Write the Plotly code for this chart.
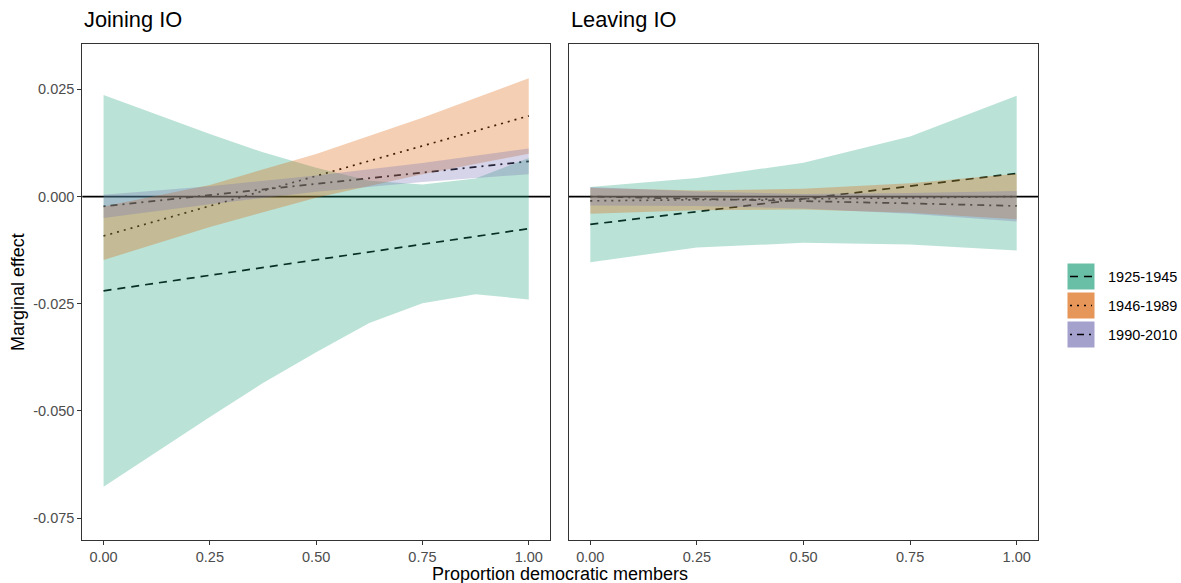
import plotly.graph_objects as go

W, H = 1181, 583

periods = ["1925-1945", "1946-1989", "1990-2010"]
fill_rgb = [(27, 158, 119), (217, 95, 2), (117, 112, 179)]
dashes = ["8px,6px", "2px,5px", "2px,5px,7px,5px"]

# ---- Joining IO ----
join_x_green = [0, 0.125, 0.25, 0.375, 0.5, 0.625, 0.75, 0.875, 1.0]
join_est_green = [-0.0220, -0.0202, -0.0184, -0.0166, -0.0148, -0.0129, -0.0111, -0.0093, -0.0075]
join_lo_green = [-0.0677, -0.0595, -0.0514, -0.0435, -0.0363, -0.0295, -0.0249, -0.0228, -0.0240]
join_hi_green = [0.0237, 0.0191, 0.0146, 0.0103, 0.0067, 0.0037, 0.0028, 0.0042, 0.0090]

join_x_orange = [0, 0.25, 0.5, 0.75, 1.0]
join_est_orange = [-0.0092, -0.0022, 0.0048, 0.0118, 0.0188]
join_lo_orange = [-0.0148, -0.0071, -0.0003, 0.0052, 0.0100]
join_hi_orange = [-0.0023, 0.0027, 0.0099, 0.0184, 0.0276]

join_x_purple = [0, 0.25, 0.5, 0.75, 1.0]
join_est_purple = [-0.0023, 0.0003, 0.0030, 0.0056, 0.0082]
join_lo_purple = [-0.0050, -0.0018, 0.0011, 0.0034, 0.0052]
join_hi_purple = [0.0004, 0.0024, 0.0049, 0.0078, 0.0112]

# ---- Leaving IO ----
leave_x_green = [0, 0.25, 0.5, 0.75, 1.0]
leave_est_green = [-0.0065, -0.0035, -0.0005, 0.0025, 0.0054]
leave_lo_green = [-0.0153, -0.0119, -0.0108, -0.0112, -0.0126]
leave_hi_green = [0.0022, 0.0043, 0.0079, 0.0140, 0.0235]

leave_x_orange = [0, 0.25, 0.5, 0.75, 1.0]
leave_est_orange = [-0.0010, -0.0008, -0.0005, -0.0003, 0.0000]
leave_lo_orange = [-0.0040, -0.0032, -0.0030, -0.0038, -0.0053]
leave_hi_orange = [0.0020, 0.0014, 0.0018, 0.0031, 0.0053]

leave_x_purple = [0, 0.25, 0.5, 0.75, 1.0]
leave_est_purple = [0.0000, -0.0005, -0.0011, -0.0016, -0.0022]
leave_lo_purple = [-0.0021, -0.0022, -0.0028, -0.0040, -0.0058]
leave_hi_purple = [0.0022, 0.0012, 0.0006, 0.0008, 0.0013]

x_tickvals = [0, 0.25, 0.5, 0.75, 1.0]
x_ticktext = ["0.00", "0.25", "0.50", "0.75", "1.00"]
y_tickvals = [0.025, 0.0, -0.025, -0.05, -0.075]
y_ticktext = ["0.025", "0.000", "-0.025", "-0.050", "-0.075"]

panels = [
    ("x", "y", [
        (join_x_green, join_est_green, join_lo_green, join_hi_green),
        (join_x_orange, join_est_orange, join_lo_orange, join_hi_orange),
        (join_x_purple, join_est_purple, join_lo_purple, join_hi_purple),
    ]),
    ("x2", "y2", [
        (leave_x_green, leave_est_green, leave_lo_green, leave_hi_green),
        (leave_x_orange, leave_est_orange, leave_lo_orange, leave_hi_orange),
        (leave_x_purple, leave_est_purple, leave_lo_purple, leave_hi_purple),
    ]),
]

fig = go.Figure()
for xa, ya, series in panels:
    # estimate lines first (ribbons drawn on top, as in the original)
    for i, (xs, est, lo, hi) in enumerate(series):
        fig.add_trace(go.Scatter(
            x=xs, y=est, mode="lines", xaxis=xa, yaxis=ya,
            line=dict(color="black", width=1.7, dash=dashes[i]),
            showlegend=False, hoverinfo="skip"))
    for i, (xs, est, lo, hi) in enumerate(series):
        r, g, b = fill_rgb[i]
        fig.add_trace(go.Scatter(
            x=list(xs) + list(xs)[::-1], y=list(hi) + list(lo)[::-1],
            mode="lines", fill="toself", xaxis=xa, yaxis=ya,
            fillcolor=f"rgba({r},{g},{b},0.3)", line=dict(width=0),
            showlegend=False, hoverinfo="skip"))

# zero reference lines, beneath the ribbons
for xr_, yr_ in [("x domain", "y"), ("x2 domain", "y2")]:
    fig.add_shape(type="line", xref=xr_, yref=yr_, x0=0, x1=1, y0=0, y1=0,
                  line=dict(color="black", width=1.8), layer="below")

def px_x(p):
    return p / W

def px_y(p):
    return 1 - p / H

tick_font = dict(family="Liberation Sans, Arial, sans-serif", size=14.5, color="#4d4d4d")
axis_common = dict(showgrid=False, zeroline=False, showline=True, mirror=True,
                   linecolor="#333333", linewidth=1.1, tickfont=tick_font)

yr = [-0.0801, 0.0355]
xr = [-0.05, 1.05]
ydom = [px_y(540), px_y(44.3)]

fig.update_layout(
    width=W, height=H,
    margin=dict(l=0, r=0, t=0, b=0),
    paper_bgcolor="white", plot_bgcolor="white",
    font=dict(family="Liberation Sans, Arial, sans-serif", color="black"),
    showlegend=False,
    xaxis=dict(domain=[px_x(82.3), px_x(550)], range=xr, anchor="y",
               tickvals=x_tickvals, ticktext=x_ticktext,
               ticks="outside", ticklen=4, tickcolor="#333333", tickwidth=1.1,
               **axis_common),
    yaxis=dict(domain=ydom, range=yr, anchor="x",
               tickvals=y_tickvals, ticktext=y_ticktext,
               ticks="outside", ticklen=4, tickcolor="#333333", tickwidth=1.1,
               **axis_common),
    xaxis2=dict(domain=[px_x(569), px_x(1038)], range=xr, anchor="y2",
                tickvals=x_tickvals, ticktext=x_ticktext,
                ticks="outside", ticklen=4, tickcolor="#333333", tickwidth=1.1,
                **axis_common),
    yaxis2=dict(domain=ydom, range=yr, anchor="x2", matches="y",
                showticklabels=False, ticks="", **axis_common),
)

annotations = [
    dict(text="Joining IO", x=px_x(82), y=px_y(19.5), xanchor="left", yanchor="middle",
         font=dict(size=21.8, color="black")),
    dict(text="Leaving IO", x=px_x(569), y=px_y(19.5), xanchor="left", yanchor="middle",
         font=dict(size=21.8, color="black")),
    dict(text="Proportion democratic members", x=px_x(560), y=px_y(574), xanchor="center",
         yanchor="middle", font=dict(size=18, color="black")),
    dict(text="Marginal effect", x=px_x(18), y=px_y(292), xanchor="center", yanchor="middle",
         textangle=-90, font=dict(size=18, color="black")),
]

# legend (ggplot style keys: filled box with line pattern)
key_tops = [262.5, 291.5, 320.5]
key_h = 28
for i, name in enumerate(periods):
    r, g, b = fill_rgb[i]
    top = key_tops[i]
    fig.add_shape(type="rect", xref="paper", yref="paper",
                  x0=px_x(1067.5), x1=px_x(1094.5), y0=px_y(top + key_h - 1), y1=px_y(top + 1),
                  fillcolor=f"rgba({r},{g},{b},0.66)", line=dict(width=0), layer="above")
    cy = top + key_h / 2
    fig.add_shape(type="line", xref="paper", yref="paper",
                  x0=px_x(1070), x1=px_x(1092), y0=px_y(cy), y1=px_y(cy),
                  line=dict(color="black", width=1.6, dash=dashes[i]), layer="above")
    annotations.append(dict(text=name, x=px_x(1106), y=px_y(cy), xanchor="left",
                            yanchor="middle", font=dict(size=14.5, color="black")))

for a in annotations:
    a.update(xref="paper", yref="paper", showarrow=False)
fig.update_layout(annotations=annotations)

fig.write_html("out.html", config={"displayModeBar": False},
               post_script="document.body.style.margin='0px';document.body.style.overflow='hidden';")
